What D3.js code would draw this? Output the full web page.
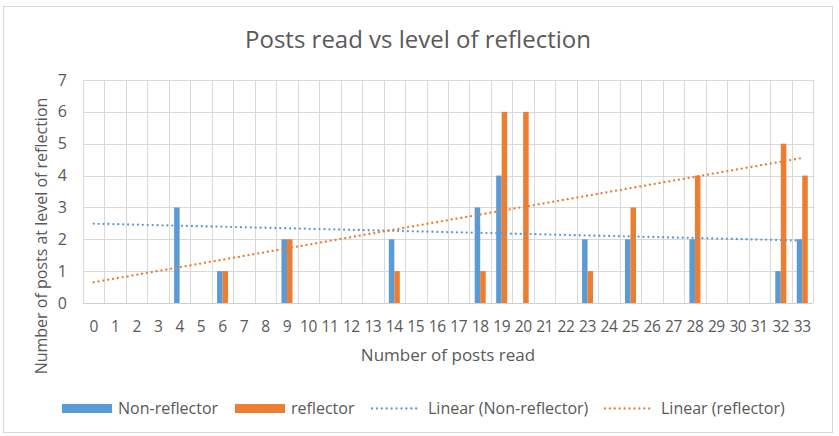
<!DOCTYPE html>
<html><head><meta charset="utf-8">
<script src="https://cdn.jsdelivr.net/npm/d3@7"></script>
<style>
html,body{margin:0;padding:0;background:#fff;}
svg{display:block;font-family:"Open Sans",sans-serif;}
</style></head>
<body><svg id="c" width="839" height="436"></svg>
<script>
const categories = ["0","1","2","3","4","5","6","7","8","9","10","11","12","13","14","15","16","17","18","19","20","21","22","23","24","25","26","27","28","29","30","31","32","33"];
const nonReflector = [null,null,null,null,3,null,1,null,null,2,null,null,null,null,2,null,null,null,3,4,null,null,null,2,null,2,null,null,2,null,null,null,1,2];
const reflector    = [null,null,null,null,null,null,1,null,null,2,null,null,null,null,1,null,null,null,1,6,6,null,null,1,null,3,null,null,4,null,null,null,5,4];
const yTicks = [0,1,2,3,4,5,6,7];
const seriesNames = ["Non-reflector","reflector"];
const colors = {"Non-reflector":"#5B9BD5","reflector":"#ED7D31"};

const svg = d3.select("#c");
const M = {left:83, right:813, top:80, bottom:303};

svg.append("rect").attr("x",3.5).attr("y",6.5).attr("width",829).attr("height",426)
  .attr("fill","#fff").attr("stroke","#d9d9d9").attr("stroke-width",1);

const x = d3.scaleBand().domain(categories).range([M.left, M.right]).paddingInner(0).paddingOuter(0);
const xs = d3.scaleBand().domain(seriesNames).range([0, x.bandwidth()]).paddingInner(0).paddingOuter(0.95);
const y = d3.scaleLinear().domain([0,7]).range([M.bottom, M.top]);

// horizontal gridlines
svg.append("g").selectAll("line").data(yTicks).join("line")
  .attr("x1",M.left).attr("x2",M.right)
  .attr("y1",d=>Math.round(y(d))+0.5).attr("y2",d=>Math.round(y(d))+0.5)
  .attr("stroke","#d9d9d9").attr("stroke-width",1);
// vertical gridlines at band boundaries
const bounds = categories.map(c=>x(c)).concat([M.right]);
svg.append("g").selectAll("line").data(bounds).join("line")
  .attr("x1",d=>Math.round(d)+0.5).attr("x2",d=>Math.round(d)+0.5)
  .attr("y1",M.top).attr("y2",M.bottom)
  .attr("stroke","#d9d9d9").attr("stroke-width",1);

// bars
const rows = [];
categories.forEach((c,i)=>{
  if(nonReflector[i]!=null) rows.push({c, s:"Non-reflector", v:nonReflector[i]});
  if(reflector[i]!=null) rows.push({c, s:"reflector", v:reflector[i]});
});
svg.append("g").selectAll("rect").data(rows).join("rect")
  .attr("x",d=>x(d.c)+xs(d.s)).attr("width",xs.bandwidth())
  .attr("y",d=>y(d.v)).attr("height",d=>y(0)-y(d.v))
  .attr("fill",d=>colors[d.s]);

// bottom axis line
svg.append("line").attr("x1",M.left).attr("x2",M.right)
  .attr("y1",Math.round(y(0))+0.5).attr("y2",Math.round(y(0))+0.5)
  .attr("stroke","#d0d0d0").attr("stroke-width",1);

// linear trendlines (least squares over non-blank points, x = category index)
function fit(vals){
  const pts = vals.map((v,i)=>[i,v]).filter(p=>p[1]!=null);
  const mx = d3.mean(pts,p=>p[0]), my = d3.mean(pts,p=>p[1]);
  const sxy = d3.sum(pts,p=>(p[0]-mx)*(p[1]-my)), sxx = d3.sum(pts,p=>(p[0]-mx)**2);
  const b = sxy/sxx, a = my - b*mx;
  return [0, categories.length-1].map(i=>[i, a+b*i]);
}
const cx = i => x(categories[i]) + x.bandwidth()/2;
const line = d3.line().x(d=>cx(d[0])).y(d=>y(d[1]));
[[nonReflector,"Non-reflector"],[reflector,"reflector"]].forEach(([vals,s])=>{
  svg.append("path").attr("d",line(fit(vals))).attr("fill","none")
    .attr("stroke",colors[s]).attr("stroke-width",2.3)
    .attr("stroke-dasharray","0.01 4.9").attr("stroke-linecap","round");
});

// y tick labels
svg.append("g").selectAll("text").data(yTicks).join("text")
  .attr("x",67).attr("y",d=>y(d)).attr("dy","0.35em").attr("text-anchor","end")
  .attr("fill","#595959").attr("font-size",16).text(d=>d);
// x tick labels
svg.append("g").selectAll("text").data(categories).join("text")
  .attr("x",c=>x(c)+x.bandwidth()/2).attr("y",327).attr("dy","0.35em").attr("text-anchor","middle")
  .attr("fill","#595959").attr("font-size",15.5).attr("letter-spacing","-0.4").text(c=>c);

// title
svg.append("text").attr("x",418).attr("y",40).attr("dy","0.35em").attr("text-anchor","middle")
  .attr("fill","#595959").attr("font-size",24).text("Posts read vs level of reflection");
// axis titles
svg.append("text").attr("x",448).attr("y",355).attr("dy","0.35em").attr("text-anchor","middle")
  .attr("fill","#595959").attr("font-size",17).text("Number of posts read");
svg.append("text").attr("transform","translate(41,236) rotate(-90)").attr("dy","0.35em").attr("text-anchor","middle")
  .attr("fill","#595959").attr("font-size",16).text("Number of posts at level of reflection");

// legend
const lg = svg.append("g");
const legendItems = [
  {type:"rect", s:"Non-reflector", x:62, label:"Non-reflector", tx:118},
  {type:"rect", s:"reflector", x:235, label:"reflector", tx:291},
  {type:"line", s:"Non-reflector", x:372, label:"Linear (Non-reflector)", tx:428},
  {type:"line", s:"reflector", x:605, label:"Linear (reflector)", tx:661}
];
legendItems.forEach(it=>{
  if(it.type==="rect"){
    lg.append("rect").attr("x",it.x).attr("y",404).attr("width",50).attr("height",9).attr("fill",colors[it.s]);
  } else {
    lg.append("line").attr("x1",it.x).attr("x2",it.x+48).attr("y1",408.5).attr("y2",408.5)
      .attr("stroke",colors[it.s]).attr("stroke-width",2.3)
      .attr("stroke-dasharray","0.01 4.9").attr("stroke-linecap","round");
  }
  lg.append("text").attr("x",it.tx).attr("y",408.5).attr("dy","0.35em")
    .attr("fill","#595959").attr("font-size",16).text(it.label);
});
</script></body></html>
